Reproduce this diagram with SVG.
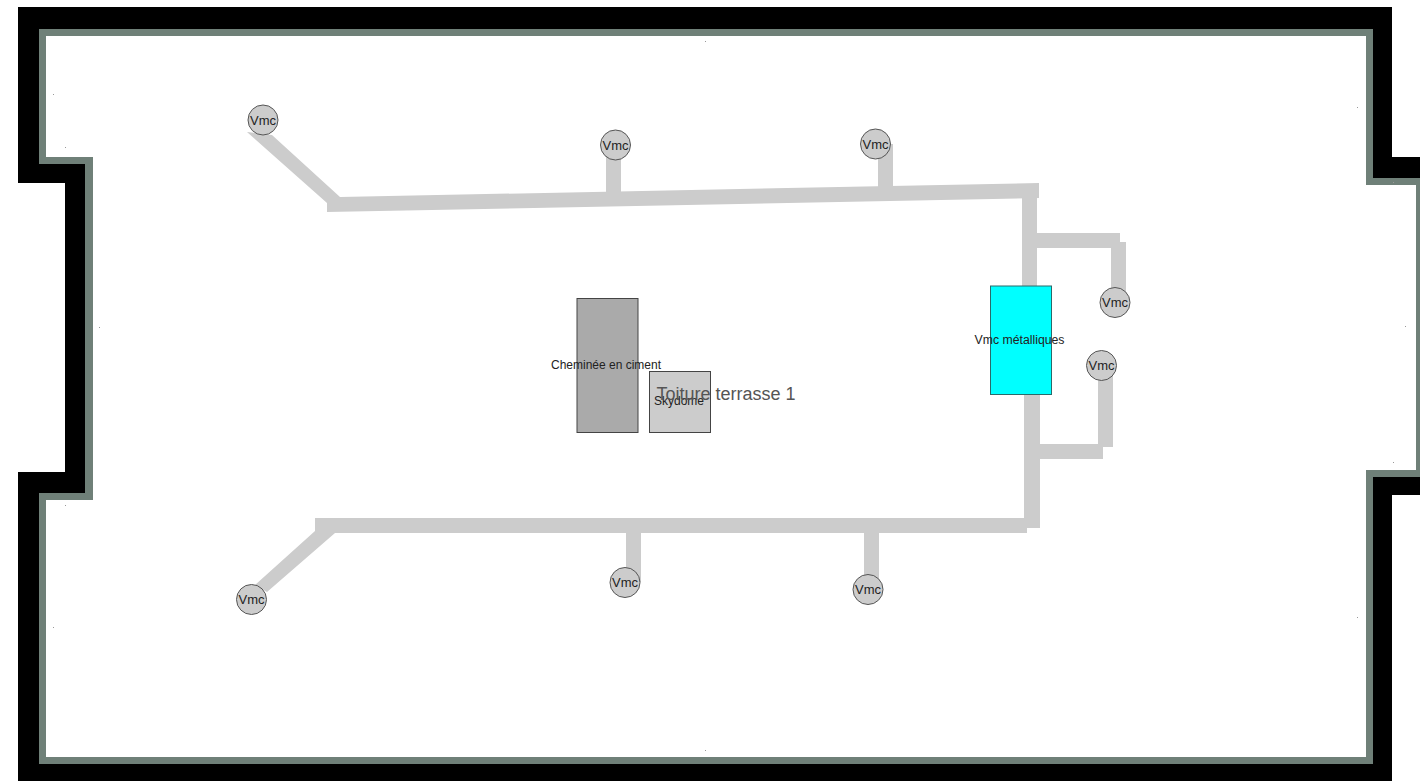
<svg xmlns="http://www.w3.org/2000/svg" width="1420" height="781" viewBox="0 0 1420 781">
<style>
.pipe{fill:#cccccc;stroke:none}
.dev{fill:#cccccc;stroke:#555555;stroke-width:1}
.lbl{font-family:"Liberation Sans",Arial,sans-serif;font-size:12px;fill:#222222;text-anchor:middle;dominant-baseline:central}
.vm{font-size:13px}
.dot{fill:#999999}
</style>
<rect width="1420" height="781" fill="#ffffff"/>
<g id="walls">
<path fill="#000000" d="M18,7H1392V157H1420V495H1392V781H18V472H65V183H18Z"/>
<path fill="#6f8078" d="M39,29H1373V178H1420V477H1373V764H39V493H85V164H39Z"/>
<path fill="#ffffff" d="M46,36H1366V185H1416V470H1366V757H46V500H93V157H46Z"/>
</g>
<g id="marks">
<rect class="dot" x="53" y="94" width="1" height="1"/><rect class="dot" x="65" y="147" width="1" height="1"/><rect class="dot" x="705" y="41" width="1" height="1"/><rect class="dot" x="1357" y="107" width="1" height="1"/><rect class="dot" x="1393" y="182" width="1" height="1"/><rect class="dot" x="1393" y="462" width="1" height="1"/><rect class="dot" x="1357" y="617" width="1" height="1"/><rect class="dot" x="705" y="750" width="1" height="1"/><rect class="dot" x="65" y="505" width="1" height="1"/><rect class="dot" x="53" y="627" width="1" height="1"/><rect class="dot" x="99" y="327" width="1" height="1"/><rect class="dot" x="1405" y="326" width="1" height="1"/>
</g>
<g id="connectors">
<polygon class="pipe" points="247,132 272,135 340,197 1039,183 1039,198 327,212 327,203"/>
<rect class="pipe" x="606" y="145" width="15" height="55"/>
<rect class="pipe" x="878" y="144" width="15" height="50"/>
<rect class="pipe" x="1022" y="190" width="15" height="100"/>
<rect class="pipe" x="1037" y="233" width="83" height="15"/>
<rect class="pipe" x="1111" y="242" width="15" height="60"/>
<rect class="pipe" x="1024" y="394" width="16" height="134"/>
<rect class="pipe" x="1040" y="444" width="63" height="15"/>
<rect class="pipe" x="1098" y="365" width="15" height="82"/>
<polygon class="pipe" points="315,518 1027,518 1027,533 335,533 267,592 255,585 315,531"/>
<rect class="pipe" x="626" y="530" width="15" height="52"/>
<rect class="pipe" x="864" y="530" width="15" height="60"/>
</g>
<g id="vmc-1"><circle class="dev" cx="263" cy="120" r="15"/><text class="lbl vm" x="263" y="120">Vmc</text></g>
<g id="vmc-2"><circle class="dev" cx="615.500" cy="145" r="15"/><text class="lbl vm" x="615.500" y="145">Vmc</text></g>
<g id="vmc-3"><circle class="dev" cx="875.500" cy="144" r="15"/><text class="lbl vm" x="875.500" y="144">Vmc</text></g>
<g id="vmc-4"><circle class="dev" cx="1115" cy="302.500" r="15"/><text class="lbl vm" x="1115" y="302.500">Vmc</text></g>
<g id="vmc-5"><circle class="dev" cx="1101.500" cy="365.500" r="15"/><text class="lbl vm" x="1101.500" y="365.500">Vmc</text></g>
<g id="vmc-6"><circle class="dev" cx="625" cy="582.500" r="15"/><text class="lbl vm" x="625" y="582.500">Vmc</text></g>
<g id="vmc-7"><circle class="dev" cx="868" cy="589.500" r="15"/><text class="lbl vm" x="868" y="589.500">Vmc</text></g>
<g id="vmc-8"><circle class="dev" cx="251.500" cy="599.500" r="15"/><text class="lbl vm" x="251.500" y="599.500">Vmc</text></g>
<g id="cheminee"><rect x="577" y="298.500" width="61" height="134" fill="#aaaaaa" stroke="#444444"/><text class="lbl" x="606" y="364.500">Cheminée en ciment</text></g>
<g id="skydome"><rect x="649.500" y="371.500" width="61" height="61" fill="#cccccc" stroke="#444444"/><text class="lbl" x="679" y="400.500">Skydome</text></g>
<g id="vmc-metalliques"><rect x="990.500" y="286" width="61" height="108.500" fill="#00ffff" stroke="#2a6a6a"/><text class="lbl" x="1019.500" y="339.500" textLength="90" lengthAdjust="spacingAndGlyphs">Vmc métalliques</text></g>
<g id="zone"><text x="726" y="394" text-anchor="middle" dominant-baseline="central" font-family="'Liberation Sans',Arial,sans-serif" font-size="18" fill="#555555">Toiture terrasse 1</text></g>
</svg>
